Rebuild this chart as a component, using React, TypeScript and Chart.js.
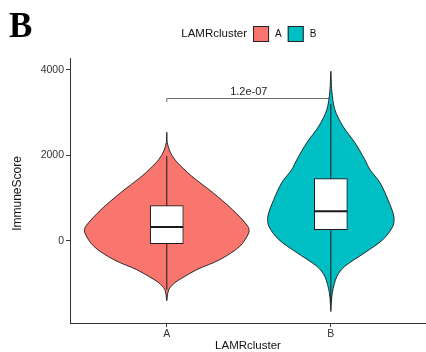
import React, { useEffect, useRef } from 'react';
import { Chart, registerables } from 'chart.js';

Chart.register(...registerables);

const FONT = '"Liberation Sans", Arial, sans-serif';

// ---- data ----
const categories = ['A', 'B'];
const groupColors = ['#F8766D', '#00BFC4'];
const yTickValues = [0, 2000, 4000];

// violin density profiles (score, half-width in category units)
const violinAScores = [-1408, -1150, -986, -838, -680, -446, -134, 188, 336, 728, 1127, 1510, 1700, 1900, 2100, 2300, 2542];
const violinAWidths = [0, 0.012, 0.049, 0.11, 0.183, 0.323, 0.445, 0.5, 0.494, 0.4, 0.28, 0.152, 0.098, 0.049, 0.018, 0.003, 0];
const violinBScores = [-1660, -1221, -838, -603, -282, 23, 336, 570, 962, 1362, 1667, 1901, 2300, 2684, 3075, 3505, 3970];
const violinBWidths = [0, 0.009, 0.037, 0.085, 0.207, 0.317, 0.378, 0.384, 0.348, 0.299, 0.238, 0.207, 0.146, 0.073, 0.024, 0.006, 0];

const boxQ1 = [-70, 258];
const boxMedian = [322, 688];
const boxQ3 = [822, 1455];
const whiskerLow = [-1150, -1450];
const whiskerHigh = [1979, 3200];

const pValueLabel = '1.2e-07';
const bracketY = 3330;
const bracketTipY = 3250;

const legendTitle = 'LAMRcluster';
const xTitle = 'LAMRcluster';
const yTitle = 'ImmuneScore';
const panelTag = 'B';

// ---- helpers ----
const BOX_HALF = 0.1;

function violinPoints(center: number, scores: number[], widths: number[]) {
  const right = scores.map((s, i) => ({ x: center + widths[i], y: s }));
  const left = scores
    .slice(0, -1)
    .map((s, i) => ({ x: center - widths[i], y: s }))
    .reverse();
  return [...right, ...left];
}

const violinSets = [
  { scores: violinAScores, widths: violinAWidths },
  { scores: violinBScores, widths: violinBWidths },
];

const textPlugin = {
  id: 'textLayer',
  afterDraw(chart: any) {
    const { ctx, scales, chartArea } = chart;
    const x = scales.x;
    const y = scales.y;
    ctx.save();
    // panel tag
    ctx.font = 'bold 35px "Liberation Serif", "Times New Roman", serif';
    ctx.fillStyle = '#000';
    ctx.textAlign = 'left';
    ctx.textBaseline = 'alphabetic';
    ctx.fillText(panelTag, 9, 37);

    // y axis title
    ctx.save();
    ctx.translate(18, (chartArea.top + chartArea.bottom) / 2 + 3);
    ctx.rotate(-Math.PI / 2);
    ctx.font = `12px ${FONT}`;
    ctx.fillStyle = '#111';
    ctx.textAlign = 'center';
    ctx.textBaseline = 'middle';
    ctx.fillText(yTitle, 0, 0);
    ctx.restore();

    // p-value label
    ctx.font = `11px ${FONT}`;
    ctx.fillStyle = '#222';
    ctx.textAlign = 'center';
    ctx.textBaseline = 'bottom';
    ctx.fillText(pValueLabel, x.getPixelForValue(1.5), y.getPixelForValue(bracketY) - 1);

    // legend
    const cx = x.getPixelForValue(1.5);
    const ly = 34;
    const box = 16;
    const gap = 6;
    ctx.font = `11.5px ${FONT}`;
    const tw = ctx.measureText(legendTitle).width;
    ctx.font = `10px ${FONT}`;
    const lw = categories.map((c) => ctx.measureText(c).width);
    const total = tw + lw.reduce((s, w) => s + gap + box + gap + w, 0);
    let px = cx - total / 2;
    ctx.textAlign = 'left';
    ctx.textBaseline = 'middle';
    ctx.fillStyle = '#111';
    ctx.font = `11.5px ${FONT}`;
    ctx.fillText(legendTitle, px, ly);
    px += tw;
    categories.forEach((c, i) => {
      px += gap;
      ctx.fillStyle = groupColors[i];
      ctx.fillRect(px, ly - box / 2, box, box);
      ctx.strokeStyle = '#222';
      ctx.lineWidth = 1;
      ctx.strokeRect(px + 0.5, ly - box / 2 + 0.5, box - 1, box - 1);
      px += box + gap;
      ctx.fillStyle = '#111';
      ctx.font = `10px ${FONT}`;
      ctx.fillText(c, px, ly);
      px += lw[i];
    });
    ctx.restore();
  },
};

export default function App() {
  const ref = useRef<HTMLCanvasElement>(null);
  useEffect(() => {
    const datasets: any[] = [];

    // significance bracket
    datasets.push({
      type: 'scatter',
      data: [
        { x: 1, y: bracketTipY },
        { x: 1, y: bracketY },
        { x: 2, y: bracketY },
        { x: 2, y: bracketTipY },
      ],
      showLine: true,
      borderColor: '#6e6e6e',
      borderWidth: 1,
      pointRadius: 0,
      order: 5,
    });

    // violins
    violinSets.forEach((v, i) => {
      datasets.push({
        type: 'scatter',
        label: categories[i],
        data: violinPoints(i + 1, v.scores, v.widths),
        showLine: true,
        fill: 'shape',
        backgroundColor: groupColors[i],
        borderColor: '#1a1a1a',
        borderWidth: 0.9,
        pointRadius: 0,
        tension: 0.3,
        order: 4,
      });
    });

    // whiskers
    categories.forEach((_, i) => {
      datasets.push({
        type: 'scatter',
        data: [
          { x: i + 1, y: whiskerLow[i] },
          { x: i + 1, y: whiskerHigh[i] },
        ],
        showLine: true,
        borderColor: '#1a1a1a',
        borderWidth: 1,
        pointRadius: 0,
        order: 3,
      });
    });

    // boxes
    datasets.push({
      type: 'bar',
      data: categories.map((_, i) => ({ x: i + 1, y: [boxQ1[i], boxQ3[i]] })),
      backgroundColor: '#ffffff',
      borderColor: '#1a1a1a',
      borderWidth: 1,
      borderSkipped: false,
      barThickness: 33,
      grouped: false,
      order: 2,
    });

    // medians
    categories.forEach((_, i) => {
      datasets.push({
        type: 'scatter',
        data: [
          { x: i + 1 - BOX_HALF, y: boxMedian[i] },
          { x: i + 1 + BOX_HALF, y: boxMedian[i] },
        ],
        showLine: true,
        borderColor: '#1a1a1a',
        borderWidth: 2,
        pointRadius: 0,
        order: 1,
      });
    });

    const chart = new Chart(ref.current as HTMLCanvasElement, {
      type: 'scatter',
      data: { datasets },
      options: {
        animation: false,
        responsive: false,
        devicePixelRatio: 1,
        layout: { padding: { top: 58, left: 0, right: 0, bottom: 0 } },
        plugins: {
          legend: { display: false },
          tooltip: { enabled: false },
        },
        scales: {
          x: {
            type: 'linear',
            min: 0.41,
            max: 2.58,
            offset: false,
            afterBuildTicks: (s: any) => {
              s.ticks = categories.map((_, i) => ({ value: i + 1 }));
            },
            afterFit: (s: any) => {
              s.height = 29;
            },
            ticks: {
              callback: (v: any) => categories[Math.round(Number(v)) - 1],
              color: '#333',
              font: { family: FONT, size: 10.5 },
              padding: 1,
              autoSkip: false,
              maxRotation: 0,
            },
            grid: {
              display: true,
              drawOnChartArea: false,
              drawTicks: true,
              tickLength: 4,
              color: '#333',
              offset: false,
            },
            border: { display: true, color: '#333', width: 1 },
            title: {
              display: true,
              text: xTitle,
              color: '#111',
              font: { family: FONT, size: 11.5, lineHeight: 1 },
              padding: 0,
            },
          },
          y: {
            type: 'linear',
            min: -1930,
            max: 4280,
            afterBuildTicks: (s: any) => {
              s.ticks = yTickValues.map((v) => ({ value: v }));
            },
            afterFit: (s: any) => {
              s.width = 70;
            },
            ticks: {
              callback: (v: any) => String(v),
              color: '#333',
              font: { family: FONT, size: 10.5 },
              padding: 2,
            },
            grid: {
              display: true,
              drawOnChartArea: false,
              drawTicks: true,
              tickLength: 4,
              color: '#333',
            },
            border: { display: true, color: '#333', width: 1 },
            title: { display: false },
          },
        },
      },
      plugins: [textPlugin],
    } as any);
    return () => chart.destroy();
  }, []);

  return (
    <div style={{ position: 'fixed', left: 0, top: 0, width: 426, height: 352, background: '#fff' }}>
      <canvas ref={ref} width={426} height={352} style={{ display: 'block', width: 426, height: 352 }} />
    </div>
  );
}
